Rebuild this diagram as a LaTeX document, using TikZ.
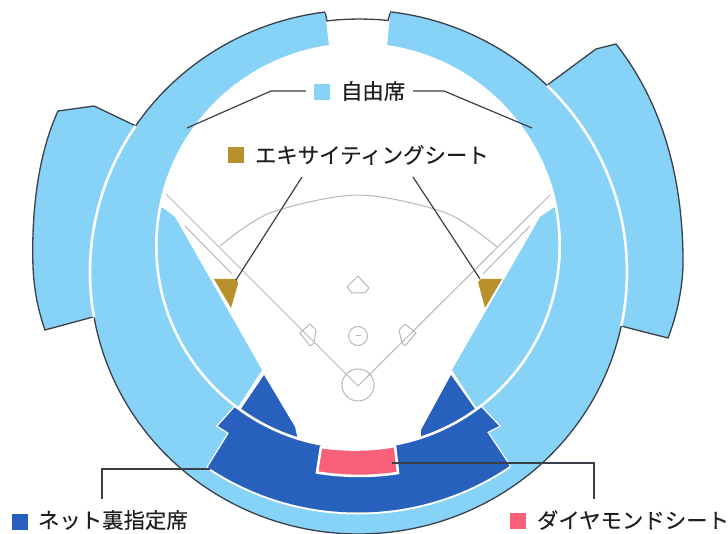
\documentclass[tikz,border=0pt]{standalone}
\usepackage{fontspec}
\newfontfamily\cjk[FakeBold=0.15]{Noto Sans CJK JP}
\definecolor{seatblue}{HTML}{87D3F8}
\definecolor{netblue}{HTML}{2860BE}
\definecolor{diapink}{HTML}{F9607A}
\definecolor{excgold}{HTML}{B8902C}
\definecolor{edgedark}{HTML}{3A4048}
\definecolor{fieldgray}{HTML}{B8B8B8}
\newcommand{\ringarc}[2]{plot[domain=#1:#2,samples=90,smooth] ({358.5+268.5*cos(\x)},{272+262*sin(\x)})}
\newcommand{\leftwing}{(136,126) -- (94,106) -- (58,111) .. controls (40,150) and (31,205) .. (33,267) .. controls (34,290) and (38,310) .. (45,330) -- (93,317)}
\newcommand{\rightwing}{(546,86) -- (596,49) -- (616,44) .. controls (652,90) and (684,160) .. (683,267) .. controls (682,290) and (677,315) .. (668,338) -- (621,326)}
\newcommand{\netpoly}{(235,407) -- (218,426) -- (229,433) -- (208,467) -- (190,560) -- (526,560) -- (509,465) -- (487,432) -- (499,426) -- (481,407) -- (358,300) -- cycle}
\tikzset{
  edgeline/.style={draw=edgedark,line width=1.3pt,line join=miter},
  ringline/.style={draw=white,line width=2.6pt},
  fieldline/.style={draw=fieldgray,line width=1pt,line join=round},
  leader/.style={draw=edgedark,line width=1.2pt},
  swatch/.style={minimum size=16pt,inner sep=0pt,outer sep=0pt,draw=none},
  legend/.style={font=\cjk\fontsize{21.4}{24}\selectfont,text=black!88,inner sep=0pt,outer sep=0pt,anchor=west}
}
\begin{document}
\begin{tikzpicture}[x=1pt,y=-1pt]
\useasboundingbox (0,0) rectangle (728,534);
\clip (0,0) rectangle (728,534);
% wings
\fill[seatblue] \leftwing -- (150,220) -- cycle;
\fill[seatblue] \rightwing -- (560,220) -- cycle;
\draw[edgeline] \leftwing;
\draw[edgeline] \rightwing;
% main band
\fill[seatblue] (358.5,272) ellipse (268.5 and 262);
\draw[ringline] \ringarc{170}{213.9};
\draw[ringline] \ringarc{-45.4}{11.9};
\draw[edgeline] \ringarc{213.9}{262.8};
\draw[edgeline] \ringarc{276.7}{314.6};
\draw[edgeline] \ringarc{11.9}{170};
% reserved seats behind the net
\begin{scope}
  \clip (358,242) circle (272.5);
  \fill[white] \netpoly;
  \draw[white,line width=2.6pt] \netpoly;
\end{scope}
\begin{scope}
  \clip (358,242) circle (270.5);
  \fill[netblue] \netpoly;
\end{scope}
% infield white
\fill[white] (358,246) circle (203);
\fill[white] (325.3,12.7) -- (329,46) -- (387,46) -- (390,13) -- (390,0) -- (325.3,0) -- cycle;
\draw[edgeline] (325.3,12.7) -- (327,21) .. controls (345,18.5) and (370,18.5) .. (388,20.5) -- (390,13);
% inner bands and wedges
\begin{scope}
  \clip (358,246) circle (200.3);
  \fill[seatblue] (163,208) -- (175,217) -- (262,370) -- (238,407) -- (120,420) -- (120,208) -- cycle;
  \fill[seatblue] (553,208) -- (540,217) -- (452,370) -- (476,407) -- (600,420) -- (600,208) -- cycle;
  \fill[netblue] (264,375) -- (295,427) -- (297,436) -- (297,460) -- (240,430) -- (241,409) -- cycle;
  \fill[netblue] (451,375) -- (421,430) -- (421,436) -- (421,460) -- (476,430) -- (475,409) -- cycle;
\end{scope}
% diamond seats
\fill[diapink,draw=white,line width=2.6pt] (321,447) .. controls (345,450.5) and (370,450.5) .. (395,446) -- (398,473) .. controls (372,477) and (345,477) .. (317,472.5) -- cycle;
% field
\draw[fieldline] (166,194) -- (358,386) -- (550,195);
\draw[fieldline] (185,226) -- (232,274);
\draw[fieldline] (530,226) -- (483,274);
\draw[fieldline] plot[smooth] coordinates {(220,246) (270,213) (358,195) (446,213) (497,247)};
\draw[fieldline] (358,385) circle (16);
\draw[fieldline] (358,336) circle (9.5);
\draw[fieldline] (356,336) -- (361,336);
\draw[fieldline] (347,287) -- (358,276) -- (369,288) -- (365,293) -- (352,293) -- cycle;
\draw[fieldline] (300,333) -- (310,324) -- (316,330) -- (314,343) -- (310,346) -- cycle;
\draw[fieldline] (416,333) -- (405,324) -- (399,330) -- (402,343) -- (405,346) -- cycle;
% exciting seats
\fill[excgold] (214,279) -- (237,279) -- (238,284) -- (231,308) -- cycle;
\fill[excgold] (478,282) -- (481,279) -- (502,279) -- (485,308) -- cycle;
% legend
\node[swatch,fill=seatblue] (swfree) at (322,92) {};
\node[legend] (txfree) at (341,91) {自由席};
\node[swatch,fill=excgold] (swexc) at (236,155) {};
\node[legend] (txexc) at (255,155) {エキサイティングシート};
\node[swatch,fill=netblue] (swnet) at (20,521.5) {};
\node[legend] (txnet) at (38,520) {ネット裏指定席};
\node[swatch,fill=diapink] (swdia) at (518,521) {};
\node[legend] (txdia) at (537,520) {ダイヤモンドシート};
% leaders
\coordinate (fl1) at (306,91); \coordinate (fl2) at (271,91); \coordinate (fl3) at (187,128);
\coordinate (fr1) at (413,91); \coordinate (fr2) at (444,91); \coordinate (fr3) at (532,128);
\coordinate (el1) at (302,177); \coordinate (el2) at (236,280);
\coordinate (er1) at (413,177); \coordinate (er2) at (480,279);
\coordinate (nl1) at (210,469); \coordinate (nl2) at (102,469); \coordinate (nl3) at (102,499);
\coordinate (dl1) at (392,463); \coordinate (dl2) at (594,463); \coordinate (dl3) at (594,499);
\draw[leader] (fl1) -- (fl2) -- (fl3);
\draw[leader] (fr1) -- (fr2) -- (fr3);
\draw[leader] (el1) -- (el2);
\draw[leader] (er1) -- (er2);
\draw[leader] (nl1) -- (nl2) -- (nl3);
\draw[leader] (dl1) -- (dl2) -- (dl3);
\end{tikzpicture}
\end{document}
